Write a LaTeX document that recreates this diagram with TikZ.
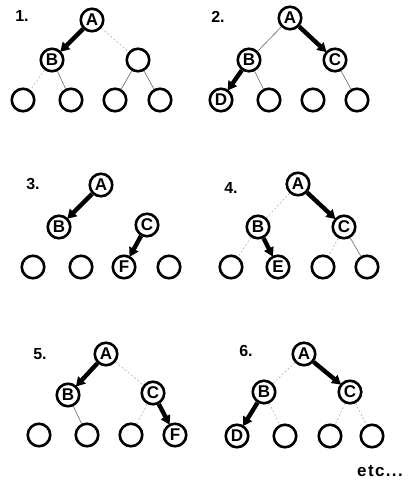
\documentclass[tikz,border=0pt]{standalone}
\usepackage{fontspec}
\setmainfont{Liberation Sans}
\newfontfamily\etcfont[LetterSpace=8]{Liberation Sans}
\usetikzlibrary{arrows.meta}
\begin{document}
\begin{tikzpicture}[x=1pt,y=-1pt,
  nd/.style={circle,draw,line width=2.6pt,minimum size=22.5pt,inner sep=0pt,font=\fontsize{17}{17}\selectfont\bfseries},
  lab/.style={font=\fontsize{16}{16}\selectfont\bfseries,anchor=center},
  thin/.style={line width=0.6pt,draw=black!60},
  faint/.style={line width=0.5pt,draw=black!35,dash pattern=on 2pt off 2pt},
  fat/.style={line width=4.4pt,-{Triangle[width=10pt,length=9pt]},shorten >=-1pt}]
\useasboundingbox (0,0) rectangle (413,485);
% Panel 1
\node[lab] (l1) at (22,16) {1.};
\node[nd] (p1a) at (92,20) {A};
\node[nd] (p1b) at (52,60) {B};
\node[nd] (p1c) at (138,60) {};
\node[nd] (p1d) at (23,100) {};
\node[nd] (p1e) at (71,100) {};
\node[nd] (p1f) at (115,100) {};
\node[nd] (p1g) at (160,100) {};
\draw[fat] (p1a) -- (p1b);
\draw[faint] (p1a) -- (p1c);
\draw[faint] (p1b) -- (p1d);
\draw[thin] (p1b) -- (p1e);
\draw[thin] (p1c) -- (p1f);
\draw[thin] (p1c) -- (p1g);
% Panel 2
\node[lab] (l2) at (218,17) {2.};
\node[nd] (p2a) at (290,18) {A};
\node[nd] (p2b) at (249,60) {B};
\node[nd] (p2c) at (335,60) {C};
\node[nd] (p2d) at (221,100) {D};
\node[nd] (p2e) at (269,100) {};
\node[nd] (p2f) at (313,100) {};
\node[nd] (p2g) at (357,100) {};
\draw[thin] (p2a) -- (p2b);
\draw[fat] (p2a) -- (p2c);
\draw[fat] (p2b) -- (p2d);
\draw[thin] (p2b) -- (p2e);
\draw[thin] (p2c) -- (p2g);
% Panel 3
\node[lab] (l3) at (33,184) {3.};
\node[nd] (p3a) at (101,185) {A};
\node[nd] (p3b) at (59,227) {B};
\node[nd] (p3c) at (147,225) {C};
\node[nd] (p3d) at (33,267) {};
\node[nd] (p3e) at (81,267) {};
\node[nd] (p3f) at (124,267) {F};
\node[nd] (p3g) at (169,267) {};
\draw[fat] (p3a) -- (p3b);
\draw[fat] (p3c) -- (p3f);
% Panel 4
\node[lab] (l4) at (231,188) {4.};
\node[nd] (p4a) at (298,184) {A};
\node[nd] (p4b) at (258,227) {B};
\node[nd] (p4c) at (344,227) {C};
\node[nd] (p4d) at (231,267) {};
\node[nd] (p4e) at (278,267) {E};
\node[nd] (p4f) at (323,267) {};
\node[nd] (p4g) at (367,267) {};
\draw[faint] (p4a) -- (p4b);
\draw[fat] (p4a) -- (p4c);
\draw[faint] (p4b) -- (p4d);
\draw[fat] (p4b) -- (p4e);
\draw[faint] (p4c) -- (p4f);
\draw[thin] (p4c) -- (p4g);
% Panel 5
\node[lab] (l5) at (40,354) {5.};
\node[nd] (p5a) at (106,354) {A};
\node[nd] (p5b) at (68,395) {B};
\node[nd] (p5c) at (153,393) {C};
\node[nd] (p5d) at (39,435) {};
\node[nd] (p5e) at (87,435) {};
\node[nd] (p5f) at (131,435) {};
\node[nd] (p5g) at (175,435) {F};
\draw[fat] (p5a) -- (p5b);
\draw[faint] (p5a) -- (p5c);
\draw[thin] (p5b) -- (p5e);
\draw[faint] (p5c) -- (p5f);
\draw[fat] (p5c) -- (p5g);
% Panel 6
\node[lab] (l6) at (246,351) {6.};
\node[nd] (p6a) at (304,354) {A};
\node[nd] (p6b) at (264,392) {B};
\node[nd] (p6c) at (350,392) {C};
\node[nd] (p6d) at (237,436) {D};
\node[nd] (p6e) at (285,436) {};
\node[nd] (p6f) at (330,436) {};
\node[nd] (p6g) at (372,436) {};
\draw[faint] (p6a) -- (p6b);
\draw[fat] (p6a) -- (p6c);
\draw[fat] (p6b) -- (p6d);
\draw[faint] (p6b) -- (p6e);
\draw[faint] (p6c) -- (p6f);
\draw[faint] (p6c) -- (p6g);
\node[font=\etcfont\fontsize{17}{17}\selectfont\bfseries] (etc) at (380,471) {etc...};
\end{tikzpicture}
\end{document}
